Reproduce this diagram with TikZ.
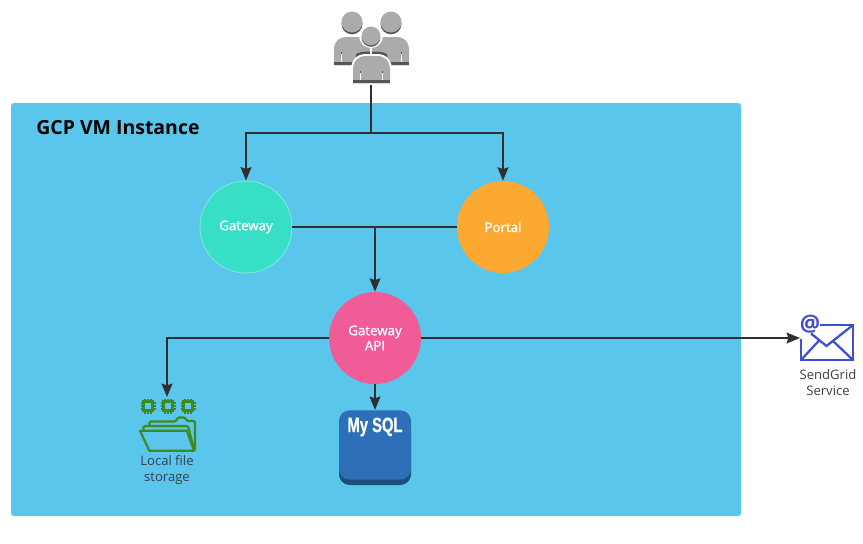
\documentclass[tikz,border=0pt]{standalone}
\usepackage{fontspec}
\setmainfont{Open Sans}
\newfontfamily\sqlfont[FakeBold=0.8]{Liberation Sans Bold}
\newfontfamily\semifont[FakeBold=1.3]{Open Sans}
\usetikzlibrary{arrows.meta}
\definecolor{panelblue}{HTML}{5AC6EC}
\definecolor{gwgreen}{HTML}{36DFC6}
\definecolor{gwedge}{HTML}{7FEBDB}
\definecolor{portalorange}{HTML}{FBA931}
\definecolor{apipink}{HTML}{F05C96}
\definecolor{sqlblue}{HTML}{2E70B7}
\definecolor{sqldark}{HTML}{1D4F7C}
\definecolor{foldgreen}{HTML}{3F8A1F}
\definecolor{mailblue}{HTML}{3F4FD1}
\definecolor{linedark}{HTML}{2F2F2F}
\definecolor{usergray}{HTML}{ABABAB}
\definecolor{userdark}{HTML}{555555}
\definecolor{labeltext}{HTML}{3A3F4A}
\tikzset{
  x=0.75pt,y=-0.75pt,
  conn/.style={draw=linedark,line width=1.5pt},
  arr/.style={conn,-{Stealth[length=10pt,width=8pt,inset=1.2pt]}},
  svc/.style={circle,minimum size=69pt,inner sep=0pt,text=white,align=center,font=\fontsize{10}{12}\semifont},
  iconbox/.style={inner sep=0pt,draw=none,fill=none},
  captext/.style={text=labeltext,align=center,inner sep=0pt,font=\fontsize{9.8}{12}\selectfont},
  chipline/.style={draw=foldgreen,line width=1.7pt},
  foldline/.style={draw=foldgreen,line width=1.6pt,line join=round},
  mailline/.style={draw=mailblue,line width=1.7pt,line join=miter},
}
\newcommand{\chipicon}[2]{%
  \draw[foldgreen,line width=.9pt] (#1-3,#2-7.5)--(#1-3,#2+7.5) (#1,#2-7.5)--(#1,#2+7.5) (#1+3,#2-7.5)--(#1+3,#2+7.5)
    (#1-7.5,#2-3)--(#1+7.5,#2-3) (#1-7.5,#2)--(#1+7.5,#2) (#1-7.5,#2+3)--(#1+7.5,#2+3);
  \fill[panelblue] (#1-3,#2-3) rectangle (#1+3,#2+3);
  \draw[chipline] (#1-4.6,#2-4.6) rectangle (#1+4.6,#2+4.6);
}
\newcommand{\backhead}[2]{%
  \fill[userdark] (#1,#2+1.8) circle (10.5);
  \fill[usergray] (#1,#2) circle (10.5);
}
% front person outline, grown by #1 px
\newcommand{\frontbody}[1]{(353-#1,84) -- (353-#1,70) .. controls (353-#1,61) and (358-#1,56-#1) .. (366,56-#1) -- (377,56-#1) .. controls (385+#1,56-#1) and (390+#1,61) .. (390+#1,70) -- (390+#1,84) -- cycle}
\begin{document}
\begin{tikzpicture}
\useasboundingbox (0,0) rectangle (863,543);
\fill[white] (0,0) rectangle (863,543);
\fill[panelblue,rounded corners=2.2pt] (11,103) rectangle (741,516);
\node[anchor=west,inner sep=0pt,font=\fontsize{14.6}{17}\selectfont\bfseries,text=black] (title) at (36,128) {GCP VM Instance};

% users icon
\backhead{352}{22}
\backhead{391}{22}
\fill[usergray] (334,62) -- (334,50) .. controls (334,41) and (339,37) .. (347,37) -- (396,37) .. controls (404,37) and (409,41) .. (409,50) -- (409,62) -- cycle;
\fill[userdark] (334,62) rectangle (409,65);
\fill[white!60!usergray] (334,65) rectangle (409,66);
\fill[white] (341,54) rectangle (342,62);
\fill[white] (401,54) rectangle (402,62);
\fill[userdark] (341,52) rectangle (342,54);
\fill[userdark] (401,52) rectangle (402,54);
\begin{scope}
\clip (356,45) rectangle (387,60);
\fill[userdark] \frontbody{4.5};
\end{scope}
\fill[white] \frontbody{2};
\fill[white] (371,36) circle (12);
\fill[white] (370.2,46) rectangle (371.8,56);
\fill[userdark] (371,37.4) circle (9.4);
\fill[usergray] (371,36) circle (9.4);
\fill[usergray] \frontbody{0};
\fill[userdark] (353,80) rectangle (390,83);
\fill[white!60!usergray] (353,83) rectangle (390,84);
\fill[white] (360,73) rectangle (361,80);
\fill[white] (382,73) rectangle (383,80);
\fill[userdark] (360,71) rectangle (361,73);
\fill[userdark] (382,71) rectangle (383,73);
\node[iconbox,minimum width=56pt,minimum height=63.75pt] (users) at (371,42.5) {};

% services
\node[svc,fill=gwgreen,draw=gwedge,line width=.6pt] (gw) at (246,227) {Gateway};
\node[svc,fill=portalorange] (portal) at (503,227) {Portal};
\node[svc,fill=apipink] (api) at (375,338) {Gateway\\[-0.6pt]API};

% MySQL
\fill[sqldark,rounded corners=8pt] (339,420) rectangle (411,485);
\node[fill=sqlblue,rounded corners=8pt,minimum width=54pt,minimum height=52pt,inner sep=0pt,anchor=north,
      text=white] (sql) at (375,410) {};
\node[inner sep=0pt,text=white,font=\sqlfont\fontsize{15.6}{17}\selectfont] (sqllabel) at (375,427) {\scalebox{.71}[1]{My SQL}};

% storage icon
\chipicon{148}{406}
\chipicon{168}{406}
\chipicon{188}{406}
\draw[foldline,rounded corners=1pt] (149.5,425) -- (149.5,421.5) -- (176,421.5) -- (177.5,417.5) -- (185,417.5) -- (187,421) -- (195,421) -- (195,450);
\draw[foldline,rounded corners=1pt] (143.5,429.5) -- (143.5,426) -- (188,426) -- (194,449);
\fill[panelblue] (140,430.7) -- (186.7,430.7) -- (194,450.7) -- (149.3,450.7) -- cycle;
\draw[foldline] (140,430.7) -- (186.7,430.7) -- (194,450.7) -- (149.3,450.7) -- cycle;
\node[iconbox,minimum width=42pt,minimum height=40.5pt,anchor=north] (store) at (167,397) {};
\node[captext] (storelabel) at (167,470) {Local file\\storage};

% mail icon
\draw[mailline] (819.5,325) -- (853,325) -- (853,360) -- (801,360) -- (801,339);
\draw[mailline] (811,333.5) -- (826.5,346) -- (853,325);
\draw[mailline] (801,360) -- (819.5,340);
\draw[mailline] (853,360) -- (833,341);
\node[inner sep=0pt,text=mailblue,font=\fontsize{17}{18}\selectfont\bfseries] (atsign) at (810,324.5) {@};
\node[iconbox,minimum width=39pt,minimum height=30pt,anchor=west] (mail) at (800,338) {};
\node[captext] (maillabel) at (828,382.5) {SendGrid\\Service};

% connectors
\coordinate (j1) at (371,133);
\coordinate (j2) at (375,227);
\draw[conn] (users.south) -- (j1);
\draw[arr] (j1) -| (gw.north);
\draw[arr] (j1) -| (portal.north);
\draw[conn] (gw.east) -- (portal.west);
\draw[arr] (j2) -- (api.north);
\draw[arr] (api.west) -| (store.north);
\draw[arr] (api.south) -- (sql.north);
\draw[arr] (api.east) -- (mail.west);
\end{tikzpicture}
\end{document}
